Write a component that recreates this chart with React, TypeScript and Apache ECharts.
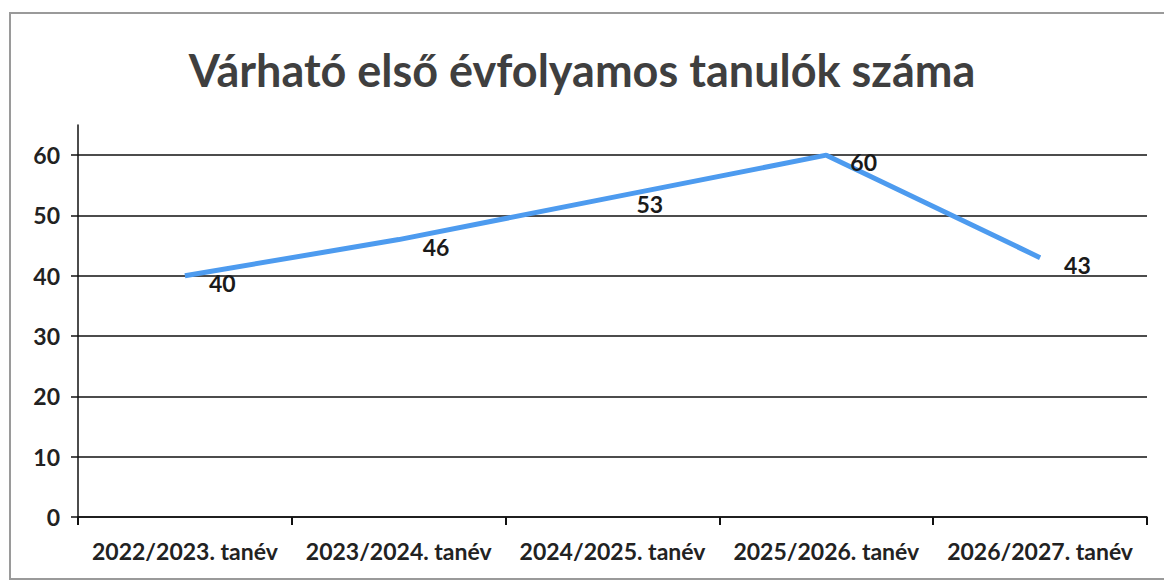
import React, { useEffect, useRef } from "react";
import * as echarts from "echarts";

const titleText = "Várható első évfolyamos tanulók száma";
const categories = [
  "2022/2023. tanév",
  "2023/2024. tanév",
  "2024/2025. tanév",
  "2025/2026. tanév",
  "2026/2027. tanév",
];
const values = [40, 46, 53, 60, 43];
const yMin = 0;
const yMax = 65;
const yInterval = 10;

export default function App() {
  const ref = useRef<HTMLDivElement>(null);
  useEffect(() => {
    if (!ref.current) return;
    const chart = echarts.init(ref.current, undefined, { renderer: "svg" });
    const font = "Lato, 'Noto Sans', sans-serif";
    chart.setOption({
      animation: false,
      backgroundColor: "#ffffff",
      title: {
        text: titleText,
        left: "center",
        top: 42,
        textStyle: {
          fontFamily: font,
          fontWeight: "bold",
          fontSize: 45,
          color: "#3f3f3f",
        },
      },
      graphic: [
        {
          type: "rect",
          shape: { x: 10, y: 13, width: 1170, height: 566 },
          style: { fill: "none", stroke: "#9a9a9a", lineWidth: 2 },
          silent: true,
        },
      ],
      grid: { left: 78, right: 17, top: 125, bottom: 67 },
      xAxis: {
        type: "category",
        data: categories,
        boundaryGap: true,
        axisLine: { show: true, lineStyle: { color: "#111", width: 1.5 } },
        axisTick: { show: true, interval: 0, inside: false, length: 8, lineStyle: { color: "#111", width: 2 } },
        axisLabel: {
          interval: 0,
          hideOverlap: false,
          fontFamily: font,
          fontWeight: "bold",
          fontSize: 23,
          color: "#222",
          margin: 22,
        },
      },
      yAxis: {
        type: "value",
        min: yMin,
        max: yMax,
        interval: yInterval,
        axisLine: { show: true, lineStyle: { color: "#111", width: 1.5 } },
        axisTick: { show: true, length: 7, lineStyle: { color: "#111", width: 1.5 } },
        splitLine: { show: true, showMaxLine: false, lineStyle: { color: "#111", width: 1.5 } },
        axisLabel: {
          fontFamily: font,
          fontWeight: "bold",
          fontSize: 23,
          color: "#222",
          margin: 18,
          showMaxLabel: false,
          formatter: (v: number) => (v % yInterval === 0 ? String(v) : ""),
        },
      },
      series: [
        {
          type: "line",
          data: values,
          symbol: "circle",
          symbolSize: 0,
          showSymbol: true,
          itemStyle: { color: "#4d9bef" },
          lineStyle: { color: "#4d9bef", width: 5 },
          label: {
            show: true,
            position: "right",
            distance: 24,
            offset: [0, 7],
            fontFamily: font,
            fontWeight: "bold",
            fontSize: 23,
            color: "#1a1a1a",
          },
        },
      ],
    });
    return () => chart.dispose();
  }, []);
  return (
    <div
      ref={ref}
      style={{ position: "fixed", left: 0, top: 0, width: 1164, height: 584 }}
    />
  );
}
